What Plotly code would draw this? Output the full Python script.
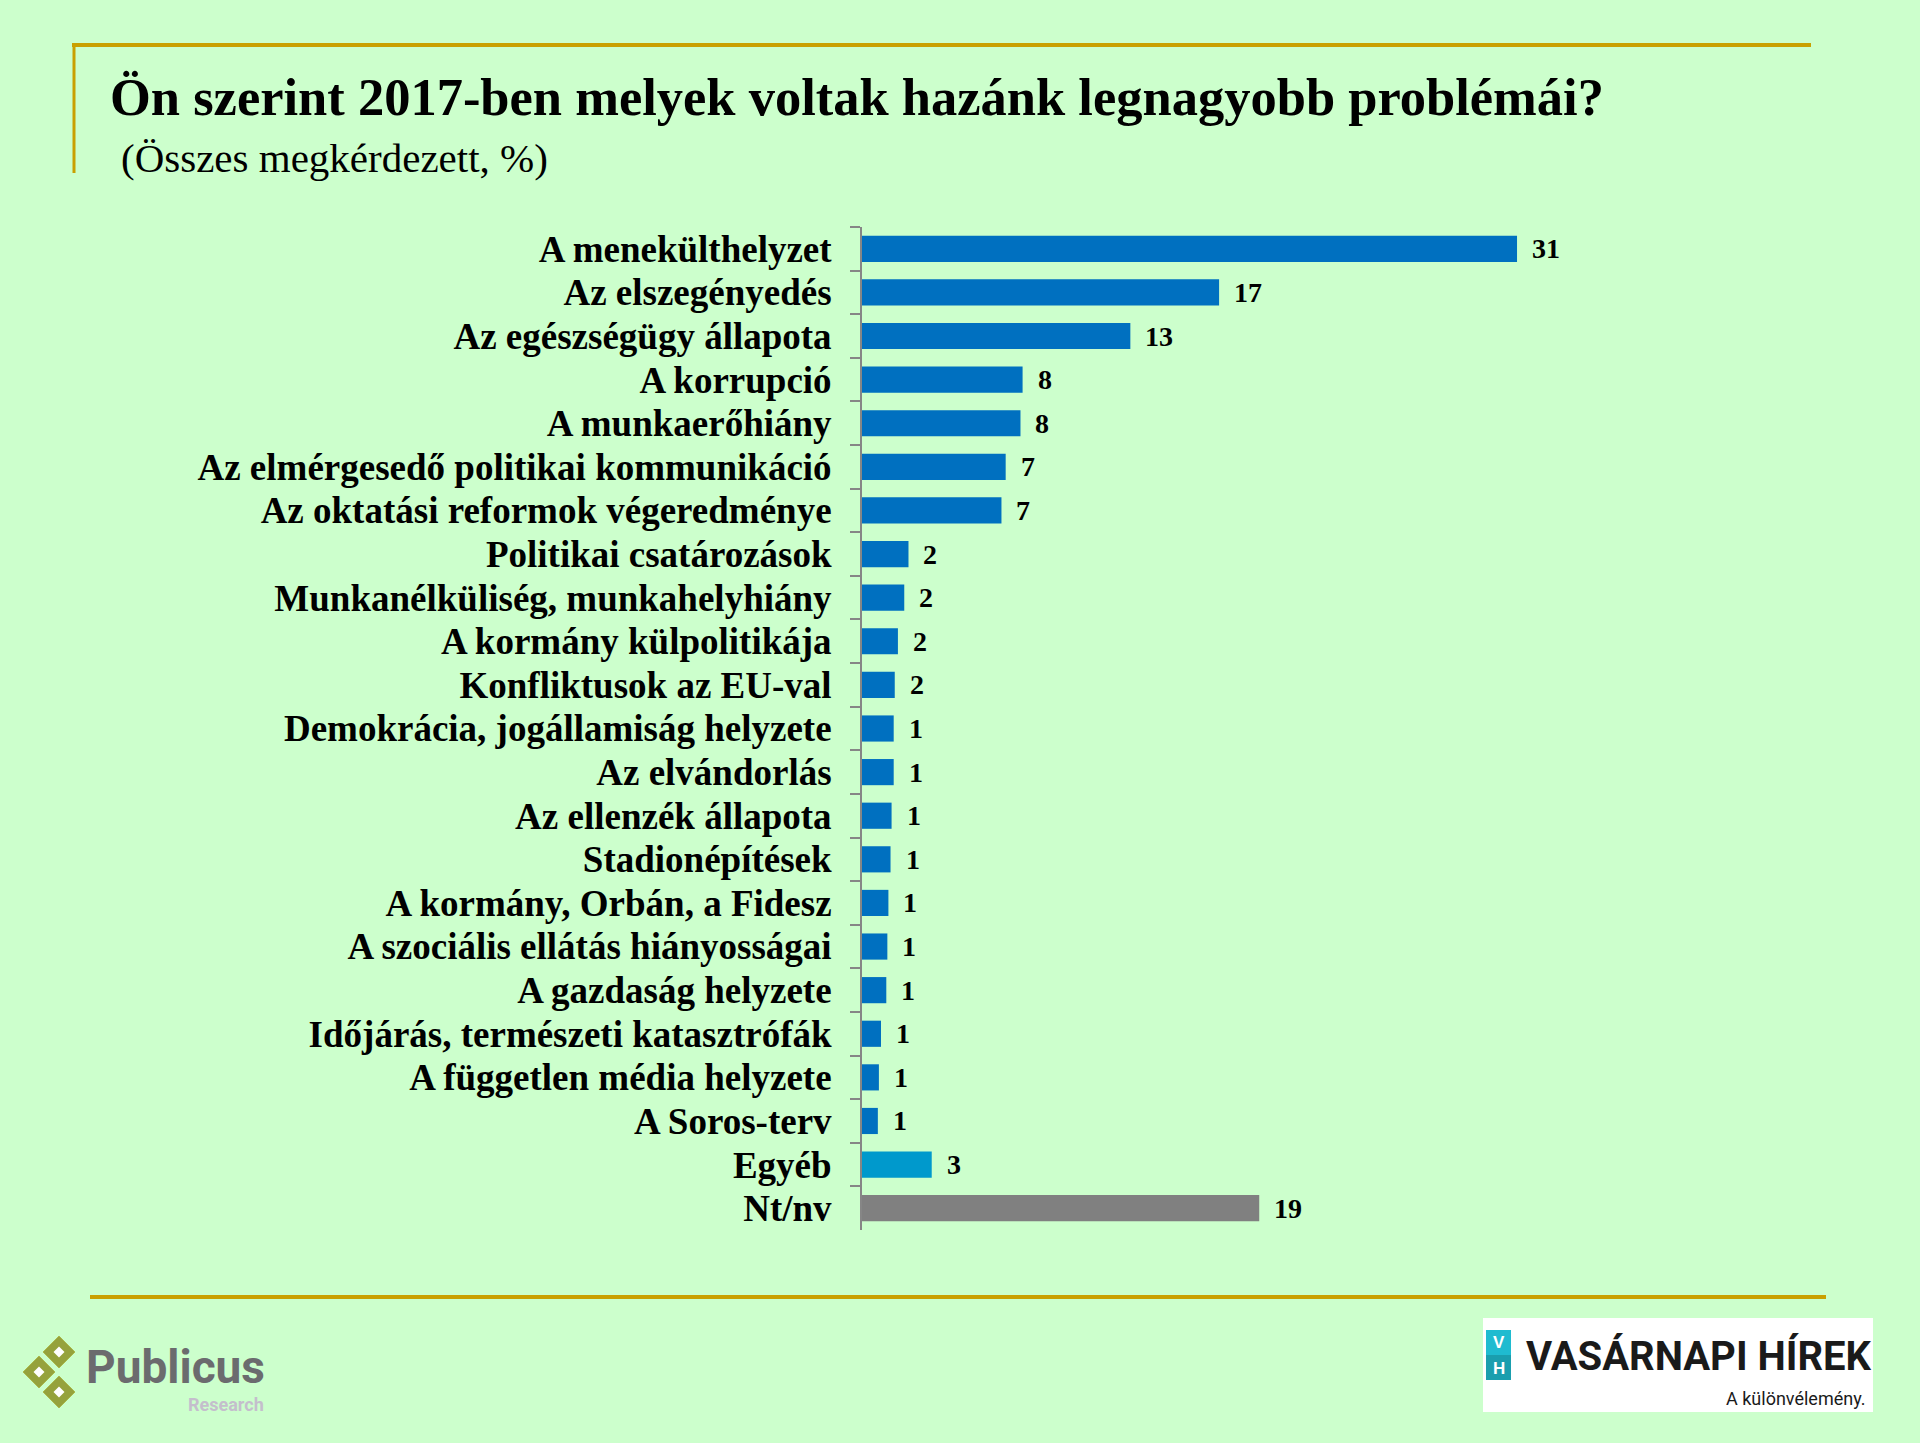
import plotly.graph_objects as go

W, H = 1920, 1443

categories = [
    "A menekülthelyzet",
    "Az elszegényedés",
    "Az egészségügy állapota",
    "A korrupció",
    "A munkaerőhiány",
    "Az elmérgesedő politikai kommunikáció",
    "Az oktatási reformok végeredménye",
    "Politikai csatározások",
    "Munkanélküliség, munkahelyhiány",
    "A kormány külpolitikája",
    "Konfliktusok az EU-val",
    "Demokrácia, jogállamiság helyzete",
    "Az elvándorlás",
    "Az ellenzék állapota",
    "Stadionépítések",
    "A kormány, Orbán, a Fidesz",
    "A szociális ellátás hiányosságai",
    "A gazdaság helyzete",
    "Időjárás, természeti katasztrófák",
    "A független média helyzete",
    "A Soros-terv",
    "Egyéb",
    "Nt/nv",
]
values = [31.0, 16.9, 12.7, 7.6, 7.5, 6.8, 6.6, 2.2, 2.0, 1.7, 1.55, 1.5, 1.5,
          1.4, 1.35, 1.25, 1.2, 1.15, 0.9, 0.8, 0.75, 3.3, 18.8]
value_labels = ["31", "17", "13", "8", "8", "7", "7", "2", "2", "2", "2", "1", "1",
                "1", "1", "1", "1", "1", "1", "1", "1", "3", "19"]
groups = ["main"] * 21 + ["other", "dk"]

group_colors = {"main": "#0070C0", "other": "#0099CC", "dk": "#808080"}

title_text = "Ön szerint 2017-ben melyek voltak hazánk legnagyobb problémái?"
subtitle_text = "(Összes megkérdezett, %)"

BG = "#CCFFCC"
GOLD = "#C9A000"
SERIF = "Liberation Serif, Times New Roman, serif"


def px(x):
    return x / W


def py(y):
    return 1 - y / H


fig = go.Figure()
fig.add_trace(go.Bar(
    y=categories,
    x=values,
    orientation="h",
    width=0.6,
    marker=dict(color=[group_colors[g] for g in groups], line=dict(width=0)),
    hoverinfo="skip",
))

annotations = []
for c, v, lab in zip(categories, values, value_labels):
    annotations.append(dict(
        x=v, y=c, xref="x", yref="y", text=lab, showarrow=False,
        xanchor="left", yanchor="middle", xshift=13,
        font=dict(family=SERIF, size=28, color="#000000", weight="bold"),
    ))

# Title and subtitle
annotations.append(dict(
    x=px(108), y=py(97), xref="paper", yref="paper", text=title_text,
    showarrow=False, xanchor="left", yanchor="middle",
    font=dict(family=SERIF, size=52.5, color="#000000", weight="bold"),
))
annotations.append(dict(
    x=px(119), y=py(158), xref="paper", yref="paper", text=subtitle_text,
    showarrow=False, xanchor="left", yanchor="middle",
    font=dict(family=SERIF, size=41, color="#000000"),
))

# Publicus logo text
annotations.append(dict(
    x=px(84), y=py(1367), xref="paper", yref="paper", text="<b>Publicus</b>",
    showarrow=False, xanchor="left", yanchor="middle",
    font=dict(family="Roboto, sans-serif", size=46, color="#6B6B6E"),
))
annotations.append(dict(
    x=px(266), y=py(1404), xref="paper", yref="paper", text="<b>Research</b>",
    showarrow=False, xanchor="right", yanchor="middle",
    font=dict(family="Roboto, sans-serif", size=18, color="#C4BECC"),
))

# Vasárnapi Hírek logo text
annotations.append(dict(
    x=px(1699), y=py(1356), xref="paper", yref="paper", text="VASÁRNAPI HÍREK",
    showarrow=False, xanchor="center", yanchor="middle",
    font=dict(family="Roboto, sans-serif", size=40, color="#1A1A1A", weight="bold"),
))
annotations.append(dict(
    x=px(1868), y=py(1398), xref="paper", yref="paper", text="A különvélemény.",
    showarrow=False, xanchor="right", yanchor="middle",
    font=dict(family="Roboto, sans-serif", size=18, color="#1A1A1A"),
))
annotations.append(dict(
    x=px(1498.5), y=py(1342), xref="paper", yref="paper", text="<b>V</b>",
    showarrow=False, xanchor="center", yanchor="middle",
    font=dict(family="Liberation Sans, Arial, sans-serif", size=17, color="#FFFFFF"),
))
annotations.append(dict(
    x=px(1498.5), y=py(1368), xref="paper", yref="paper", text="<b>H</b>",
    showarrow=False, xanchor="center", yanchor="middle",
    font=dict(family="Liberation Sans, Arial, sans-serif", size=17, color="#FFFFFF"),
))

shapes = []
# Gold frame lines
shapes.append(dict(type="line", xref="paper", yref="paper",
                   x0=px(72), x1=px(1811), y0=py(45), y1=py(45),
                   line=dict(color=GOLD, width=4)))
shapes.append(dict(type="line", xref="paper", yref="paper",
                   x0=px(74), x1=px(74), y0=py(43), y1=py(173),
                   line=dict(color=GOLD, width=3)))
shapes.append(dict(type="line", xref="paper", yref="paper",
                   x0=px(90), x1=px(1826), y0=py(1297), y1=py(1297),
                   line=dict(color=GOLD, width=4)))


def diamond(cx, cy, r):
    return (f"M {px(cx)} {py(cy - r)} L {px(cx + r)} {py(cy)} "
            f"L {px(cx)} {py(cy + r)} L {px(cx - r)} {py(cy)} Z")


for (cx, cy) in [(59, 1352), (39, 1372), (59, 1392)]:
    shapes.append(dict(type="path", xref="paper", yref="paper",
                       path=diamond(cx, cy, 16), fillcolor="#95A23C",
                       line=dict(color="#A9B84A", width=1)))
    shapes.append(dict(type="path", xref="paper", yref="paper",
                       path=diamond(cx, cy, 5.5), fillcolor="#FFFFFF",
                       line=dict(width=0)))

# Vasárnapi Hírek logo boxes
shapes.append(dict(type="rect", xref="paper", yref="paper",
                   x0=px(1483), x1=px(1873), y0=py(1412), y1=py(1318),
                   fillcolor="#FFFFFF", line=dict(width=0)))
shapes.append(dict(type="rect", xref="paper", yref="paper",
                   x0=px(1486), x1=px(1511), y0=py(1355), y1=py(1330),
                   fillcolor="#1FBBD0", line=dict(width=0)))
shapes.append(dict(type="rect", xref="paper", yref="paper",
                   x0=px(1486), x1=px(1511), y0=py(1380), y1=py(1355),
                   fillcolor="#1A9EAE", line=dict(width=0)))

fig.update_layout(
    width=W, height=H,
    margin=dict(l=0, r=0, t=0, b=0),
    paper_bgcolor=BG, plot_bgcolor=BG,
    showlegend=False,
    bargap=0.4,
    annotations=annotations,
    shapes=shapes,
    xaxis=dict(
        domain=[px(862), px(1810)],
        range=[0, 948 / 21.13],
        visible=False,
        fixedrange=True,
    ),
    yaxis=dict(
        domain=[py(1230), py(227)],
        range=[22.5, -0.5],
        type="category",
        tickmode="linear", tick0=0, dtick=1,
        showline=True, linecolor="#868686", linewidth=2,
        ticks="outside", ticklen=10, tickwidth=2, tickcolor="#868686",
        tickson="boundaries",
        showgrid=False, zeroline=False,
        automargin=False,
        ticklabelstandoff=21,
        tickfont=dict(family=SERIF, size=37, color="#000000", weight="bold"),
    ),
)

fig.write_html("out.html")
